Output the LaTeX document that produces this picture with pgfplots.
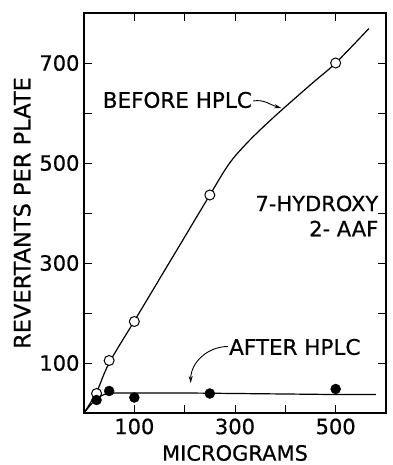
\documentclass[border=0pt]{standalone}
\usepackage{fontspec}
\setmainfont{DejaVu Sans}[FakeBold=0.6]
\usepackage{pgfplots}
\pgfplotsset{compat=1.18}
\usetikzlibrary{arrows.meta}
\begin{document}
\begin{tikzpicture}
\begin{axis}[
  scale only axis, width=302pt, height=400pt,
  xmin=0, xmax=600, ymin=0, ymax=800,
  xtick={100,200,300,400,500}, xticklabels={100,,300,,500},
  ytick={100,200,300,400,500,600,700}, yticklabels={100,,300,,500,,700},
  tick align=inside, major tick length=8pt,
  tick style={line width=0.9pt, black},
  axis line style={line width=1.2pt},
  /pgf/number format/assume math mode=true,
  tick label style={font=\fontsize{21}{21}\selectfont},
  yticklabel style={xshift=-1pt},
  xticklabel style={yshift=-2pt},
  every axis x label/.style={at={(axis description cs:0.5,-0.1)},anchor=center},
  every axis y label/.style={at={(axis description cs:-0.205,0.5)},rotate=90,anchor=center},
  xlabel style={font=\fontsize{21}{21}\selectfont},
  ylabel style={font=\fontsize{22.5}{22.5}\selectfont},
  xlabel={MICROGRAMS},
  ylabel={REVERTANTS PER PLATE},
  clip=false,
]
% before HPLC curve
\addplot[line width=1.2pt, smooth, tension=0.6] coordinates {
 (0,0) (25,42) (50,100) (100,184) (150,268) (200,352) (250,436) (288,498) (322,538) (355,571) (394,607) (454,660) (500,700) (566,769)};
% after HPLC curve
\addplot[line width=1.2pt, smooth, tension=0.5] coordinates {
 (0,0) (12,15) (25,28) (40,37) (60,40) (100,40) (200,40) (300,39) (400,38) (500,37) (580,37)};
% before HPLC points
\addplot[only marks, mark=*, mark size=5pt, mark options={fill=white, draw=black, line width=1pt}] coordinates {
 (25,39) (50,105) (100,183) (250,436) (500,700)};
% after HPLC points
\addplot[only marks, mark=*, mark size=5pt, mark options={fill=black, draw=black}] coordinates {
 (25,26) (50,44) (100,31) (250,39) (500,48)};
\node[anchor=east, font=\fontsize{21.5}{21.5}\selectfont, inner sep=0pt] at (axis cs:334,626) {BEFORE HPLC};
\draw[line width=0.9pt, -{Stealth[length=7pt,width=4pt]}] (axis cs:336,624) to[out=10,in=165] (axis cs:392,610);
\node[anchor=east, font=\fontsize{21}{21}\selectfont, inner sep=0pt] at (axis cs:585,419) {7-HYDROXY};
\node[anchor=east, font=\fontsize{21}{21}\selectfont, inner sep=0pt] at (axis cs:585,369) {2- AAF};
\node[anchor=west, font=\fontsize{21.5}{21.5}\selectfont, inner sep=0pt] at (axis cs:288,132) {AFTER HPLC};
\draw[line width=0.9pt, -{Stealth[length=7pt,width=4pt]}] (axis cs:286,133) to[out=180,in=90] (axis cs:212,60);
\coordinate (bl) at (rel axis cs:0,0);
\end{axis}
\pgfresetboundingbox
\path[use as bounding box] (bl) ++(-84pt,-52pt) rectangle ++(392pt,465pt);
\end{tikzpicture}
\end{document}
